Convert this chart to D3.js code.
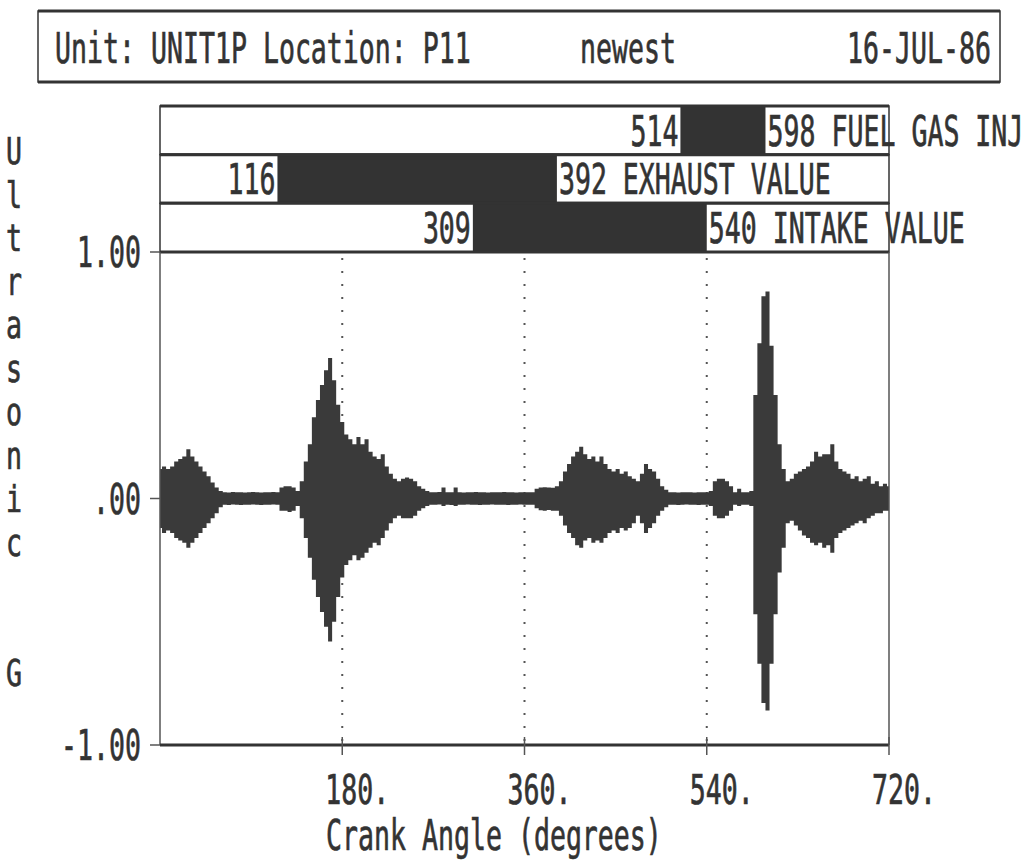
<!DOCTYPE html>
<html>
<head>
<meta charset="utf-8">
<script src="https://cdn.jsdelivr.net/npm/d3@7"></script>
<style>
  body { margin: 0; background: #fff; }
  svg { display: block; }
  text { font-family: "DejaVu Sans Mono", "Liberation Mono", monospace; fill: #333; stroke: #333; stroke-width: 0.7; }
</style>
</head>
<body>
<svg id="chart" width="1034" height="860"></svg>
<script>
// header strings
var headerLeft = "Unit: UNIT1P Location: P11";
var headerMid = "newest";
var headerRight = "16-JUL-86";

// valve / injection events, crank angle degrees
var eventNames = ["FUEL GAS INJ", "EXHAUST VALUE", "INTAKE VALUE"];
var eventStart = [514, 116, 309];
var eventEnd = [598, 392, 540];

// axis stuff
var xTicks = [180, 360, 540, 720];
var xTickLabels = ["180.", "360.", "540.", "720."];
var yTicks = [1, 0, -1];
var yTickLabels = ["1.00", ".00", "-1.00"];
var yTitle = "Ultrasonic  G";
var xTitle = "Crank Angle (degrees)";

// waveform envelope, one value every 4 degrees (0..720)
var sampleStep = 4;
var upper = [
  0.12, 0.13, 0.12, 0.13, 0.15, 0.16, 0.17, 0.20, 0.17, 0.15, 0.13, 0.11, 0.09, 0.065, 0.045, 0.03,
  0.025, 0.024, 0.026, 0.025, 0.025, 0.024, 0.025, 0.026, 0.025, 0.024, 0.025, 0.025, 0.026, 0.025,
  0.045, 0.05, 0.05, 0.045, 0.03,
  0.07, 0.15, 0.22, 0.33, 0.40, 0.46, 0.52, 0.57,
  0.48, 0.38, 0.31, 0.26, 0.24, 0.22, 0.25, 0.22, 0.24, 0.19, 0.17, 0.16, 0.18, 0.13, 0.10, 0.08,
  0.07, 0.08, 0.085, 0.08, 0.07, 0.05, 0.04, 0.03,
  0.025, 0.025, 0.026, 0.045, 0.025, 0.025, 0.045, 0.025, 0.024, 0.025, 0.025, 0.026, 0.025, 0.025,
  0.024, 0.025, 0.025, 0.025, 0.026, 0.025, 0.025, 0.024, 0.025, 0.025, 0.025, 0.025, 0.04,
  0.045, 0.046, 0.045, 0.044, 0.05,
  0.07, 0.11, 0.14, 0.17, 0.19, 0.21, 0.18, 0.16, 0.17, 0.15, 0.17, 0.14, 0.12, 0.11, 0.12, 0.10,
  0.11, 0.09, 0.08, 0.07, 0.10, 0.14, 0.12, 0.11, 0.08, 0.05, 0.035,
  0.025, 0.025, 0.024, 0.025, 0.025, 0.025, 0.024, 0.025, 0.025, 0.025, 0.03,
  0.07, 0.08, 0.08, 0.07, 0.05,
  0.025, 0.04, 0.025, 0.025, 0.03,
  0.42, 0.63, 0.82, 0.84, 0.62, 0.42, 0.22, 0.12,
  0.07, 0.08, 0.10, 0.11, 0.12, 0.13, 0.15, 0.19, 0.17, 0.18, 0.18, 0.22, 0.15, 0.12, 0.11, 0.10,
  0.08, 0.09, 0.07, 0.08, 0.09, 0.06, 0.07, 0.05, 0.06, 0.05
];
var lower = [
  -0.12, -0.14, -0.13, -0.14, -0.16, -0.17, -0.18, -0.20, -0.18, -0.16, -0.14, -0.12, -0.10, -0.08, -0.06, -0.035,
  -0.025, -0.026, -0.024, -0.025, -0.026, -0.025, -0.025, -0.024, -0.025, -0.026, -0.025, -0.025, -0.024, -0.025,
  -0.05, -0.05, -0.055, -0.05, -0.03,
  -0.08, -0.16, -0.24, -0.33, -0.40, -0.46, -0.52, -0.58,
  -0.50, -0.40, -0.32, -0.27, -0.25, -0.23, -0.25, -0.24, -0.22, -0.20, -0.18, -0.19, -0.16, -0.13, -0.10, -0.08,
  -0.07, -0.08, -0.08, -0.08, -0.07, -0.05, -0.04, -0.03,
  -0.025, -0.025, -0.024, -0.03, -0.025, -0.026, -0.03, -0.025, -0.025, -0.024, -0.025, -0.025, -0.026, -0.025,
  -0.025, -0.024, -0.025, -0.025, -0.025, -0.026, -0.025, -0.025, -0.024, -0.025, -0.025, -0.025, -0.04,
  -0.048, -0.05, -0.047, -0.05, -0.05,
  -0.07, -0.11, -0.14, -0.16, -0.19, -0.20, -0.17, -0.16, -0.18, -0.17, -0.18, -0.16, -0.14, -0.13, -0.14, -0.12,
  -0.13, -0.12, -0.10, -0.07, -0.10, -0.14, -0.12, -0.10, -0.07, -0.05, -0.035,
  -0.025, -0.025, -0.026, -0.025, -0.024, -0.025, -0.025, -0.026, -0.025, -0.025, -0.03,
  -0.07, -0.08, -0.08, -0.07, -0.05,
  -0.025, -0.03, -0.025, -0.025, -0.03,
  -0.47, -0.67, -0.83, -0.86, -0.67, -0.47, -0.30, -0.20,
  -0.10, -0.09, -0.11, -0.13, -0.15, -0.16, -0.18, -0.19, -0.18, -0.20, -0.19, -0.22, -0.16, -0.14, -0.13, -0.12,
  -0.11, -0.10, -0.09, -0.10, -0.08, -0.07, -0.06, -0.06, -0.05, -0.05
];

var ink = "#333";
var svg = d3.select("#chart");

// plot area
var x = d3.scaleLinear().domain([0, 720]).range([160, 889]);
var y = d3.scaleLinear().domain([-1, 1]).range([745, 252]);
var rowY = d3.scaleBand().domain(eventNames).range([106, 252]);

// old plotter font is a tall condensed mono, so squash DejaVu sideways
// (advance ~16px per char like the original)
function label(g, str, px, py, anchor, size) {
  var fs = size || 42;
  var sx = 16 / (0.602 * fs);
  return g.append("text")
    .attr("transform", "translate(" + px + "," + py + ") scale(" + sx + ",1)")
    .attr("font-size", fs)
    .attr("text-anchor", anchor || "start")
    .text(str);
}

// ---- header box
svg.append("rect").attr("x", 38).attr("y", 11).attr("width", 962).attr("height", 71)
  .attr("fill", "none").attr("stroke", ink).attr("stroke-width", 1.5);
svg.append("line").attr("x1", 38).attr("x2", 1000).attr("y1", 11).attr("y2", 11).attr("stroke", ink).attr("stroke-width", 3);
svg.append("line").attr("x1", 38).attr("x2", 1000).attr("y1", 82).attr("y2", 82).attr("stroke", ink).attr("stroke-width", 3);
label(svg, headerLeft, 55, 63);
label(svg, headerMid, 580, 63);
label(svg, headerRight, 991, 63, "end");

// ---- event rows (white bar, dark span between open/close)
var rows = svg.append("g");
eventNames.forEach(function (name, i) {
  var top = rowY(name), h = rowY.bandwidth();
  var g = rows.append("g");
  g.append("rect").attr("x", x(0)).attr("y", top).attr("width", x(720) - x(0)).attr("height", h)
    .attr("fill", "#fff").attr("stroke", ink).attr("stroke-width", 1.5);
  g.append("rect").attr("x", x(eventStart[i])).attr("y", top).attr("width", x(eventEnd[i]) - x(eventStart[i])).attr("height", h)
    .attr("fill", ink);
  [top, top + h].forEach(function (ly) {
    g.append("line").attr("x1", x(0)).attr("x2", x(720)).attr("y1", ly).attr("y2", ly)
      .attr("stroke", ink).attr("stroke-width", 3);
  });
  label(g, String(eventStart[i]), x(eventStart[i]) - 2, top + h - 9, "end");
  label(g, eventEnd[i] + " " + name, x(eventEnd[i]) + 2, top + h - 9);
});

// ---- dotted grid at the 180 marks
svg.append("g").selectAll("line").data(xTicks.slice(0, 3)).join("line")
  .attr("x1", function (d) { return x(d); }).attr("x2", function (d) { return x(d); })
  .attr("y1", y(1) + 6).attr("y2", y(-1))
  .attr("stroke", "#555").attr("stroke-width", 2).attr("stroke-dasharray", "2,11");

// ---- waveform
var pts = upper.map(function (u, i) { return { a: i * sampleStep, hi: u, lo: lower[i] }; });
var area = d3.area()
  .x(function (d) { return x(d.a); })
  .y0(function (d) { return y(d.lo); })
  .y1(function (d) { return y(d.hi); })
  .curve(d3.curveStep);
svg.append("path").datum(pts).attr("d", area).attr("fill", "#3a3a3a");

// ---- frame
svg.append("line").attr("x1", x(0)).attr("x2", x(0)).attr("y1", y(1)).attr("y2", y(-1)).attr("stroke", "#555").attr("stroke-width", 1.5);
svg.append("line").attr("x1", x(720)).attr("x2", x(720)).attr("y1", y(1)).attr("y2", y(-1)).attr("stroke", "#555").attr("stroke-width", 1.5);
svg.append("line").attr("x1", x(0)).attr("x2", x(720)).attr("y1", y(-1)).attr("y2", y(-1)).attr("stroke", ink).attr("stroke-width", 3);

// x ticks + labels
var xa = svg.append("g");
xa.selectAll("line").data(xTicks).join("line")
  .attr("x1", function (d) { return x(d); }).attr("x2", function (d) { return x(d); })
  .attr("y1", y(-1) - 8).attr("y2", y(-1) + 10)
  .attr("stroke", "#555").attr("stroke-width", 1.5);
xTicks.forEach(function (t, i) { label(xa, xTickLabels[i], x(t) - 17, 804, "start", 40); });
label(svg, xTitle, 326, 850);

// y ticks + labels
var ya = svg.append("g");
ya.selectAll("line").data(yTicks).join("line")
  .attr("x1", x(0) - 10).attr("x2", x(0))
  .attr("y1", function (d) { return y(d); }).attr("y2", function (d) { return y(d); })
  .attr("stroke", "#555").attr("stroke-width", 1.5);
yTicks.forEach(function (t, i) { label(ya, yTickLabels[i], 141, y(t) + 15, "end"); });

// vertical title, one letter per line
yTitle.split("").forEach(function (ch, i) {
  if (ch != " ") label(svg, ch, 14, 164 + i * 43.5, "middle", 37);
});
</script>
</body>
</html>
